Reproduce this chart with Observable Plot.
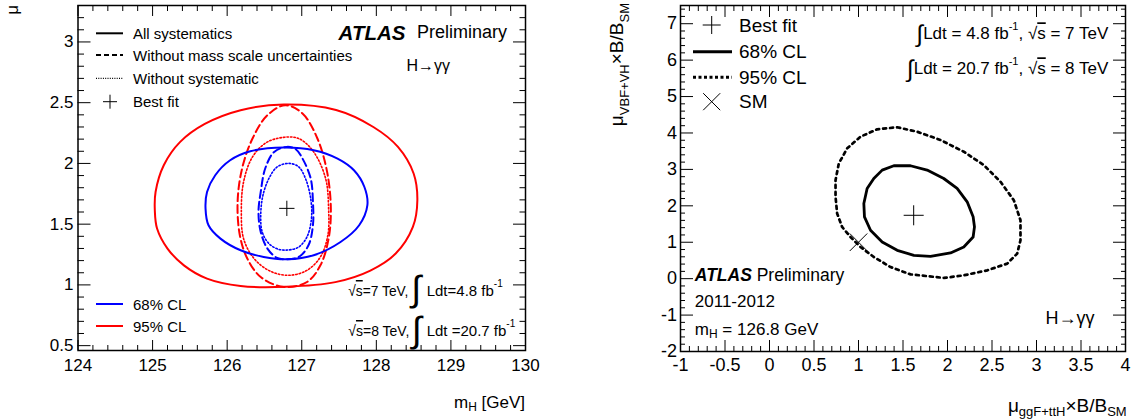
<!DOCTYPE html>
<html><head><meta charset="utf-8">
<script src="https://cdn.jsdelivr.net/npm/d3@7"></script>
<script src="https://cdn.jsdelivr.net/npm/@observablehq/plot@0.6"></script>
<style>
body{margin:0;background:#fff;}
#wrap{position:relative;width:1137px;height:419px;display:flex;}
#wrap > svg{flex:none;}
#overlay{position:absolute;left:0;top:0;pointer-events:none;}
</style></head><body><div id="wrap"></div>
<script>
const FONT = '"Liberation Sans", Arial, Helvetica, sans-serif';

// ---------- Left panel: mu vs mH ----------
const leftXTicks = [124, 125, 126, 127, 128, 129, 130];
const leftYTicks = [0.5, 1, 1.5, 2, 2.5, 3];
const leftBestFit = [[126.8, 1.63]];
// 95% CL, all systematics (red solid)
const c95All = [[126.76,2.485],[127.46,2.440],[127.96,2.300],[128.29,2.136],[128.50,1.917],[128.55,1.697],[128.49,1.477],[128.26,1.258],[127.92,1.118],[127.45,1.023],[126.79,0.985],[126.18,0.991],[125.73,1.052],[125.42,1.161],[125.20,1.299],[125.06,1.464],[125.03,1.614],[125.04,1.765],[125.15,1.985],[125.37,2.177],[125.70,2.325],[126.18,2.438]];
// 68% CL, all systematics (blue solid)
const c68All = [[126.76,2.131],[127.16,2.109],[127.48,2.040],[127.70,1.944],[127.84,1.806],[127.88,1.656],[127.77,1.491],[127.52,1.353],[127.16,1.244],[126.81,1.211],[126.49,1.230],[126.18,1.285],[125.91,1.381],[125.75,1.491],[125.71,1.628],[125.73,1.765],[125.84,1.903],[126.04,2.026],[126.31,2.100]];
// 95% CL, without mass scale uncertainties (red dashed)
const c95NoMass = [[126.78,2.479],[127.01,2.411],[127.21,2.205],[127.34,1.930],[127.39,1.628],[127.36,1.381],[127.25,1.161],[127.07,1.024],[126.76,0.983],[126.45,1.065],[126.27,1.217],[126.17,1.409],[126.14,1.683],[126.20,1.958],[126.34,2.205],[126.54,2.397]];
// 95% CL, without systematics (red dotted)
const c95NoSyst = [[126.83,2.218],[126.98,2.199],[127.16,2.095],[127.32,1.876],[127.36,1.628],[127.35,1.409],[127.25,1.230],[127.07,1.120],[126.83,1.079],[126.58,1.112],[126.36,1.217],[126.22,1.381],[126.19,1.601],[126.22,1.848],[126.34,2.054],[126.54,2.177]];
// 68% CL, without mass scale uncertainties (blue dashed)
const c68NoMass = [[126.80,2.136],[126.92,2.117],[127.01,2.040],[127.12,1.876],[127.15,1.683],[127.15,1.491],[127.09,1.326],[126.96,1.230],[126.80,1.211],[126.67,1.222],[126.54,1.299],[126.45,1.436],[126.42,1.601],[126.45,1.765],[126.51,1.958],[126.63,2.095]];
// 68% CL, without systematics (blue dotted)
const c68NoSyst = [[126.83,2.000],[126.96,1.971],[127.05,1.876],[127.12,1.711],[127.13,1.546],[127.07,1.395],[126.96,1.312],[126.83,1.288],[126.69,1.293],[126.56,1.340],[126.47,1.436],[126.45,1.573],[126.48,1.738],[126.56,1.876],[126.67,1.971]];

// ---------- Right panel: mu_VBF+VH vs mu_ggF+ttH ----------
const rightXTicks = [-1, -0.5, 0, 0.5, 1, 1.5, 2, 2.5, 3, 3.5, 4];
const rightYTicks = [-2, -1, 0, 1, 2, 3, 4, 5, 6, 7];
const rightBestFit = [[1.62, 1.74]];
const rightSM = [[1, 1]];
const r68 = [[1.397,3.10],[1.584,3.10],[1.771,2.98],[1.958,2.75],[2.108,2.48],[2.221,2.11],[2.288,1.70],[2.303,1.42],[2.288,1.145],[2.183,0.87],[2.034,0.705],[1.809,0.614],[1.622,0.641],[1.435,0.779],[1.266,1.007],[1.135,1.329],[1.067,1.696],[1.060,2.064],[1.097,2.477],[1.172,2.752],[1.266,2.98]];
const r95 = [[1.435,4.156],[1.659,4.035],[1.921,3.807],[2.183,3.485],[2.408,3.118],[2.596,2.659],[2.745,2.155],[2.820,1.605],[2.820,1.054],[2.783,0.688],[2.671,0.413],[2.446,0.228],[2.183,0.091],[1.958,0.02],[1.584,0.118],[1.360,0.319],[1.172,0.595],[1.022,0.870],[0.910,1.145],[0.816,1.42],[0.760,1.789],[0.742,2.246],[0.742,2.705],[0.779,3.165],[0.873,3.578],[1.022,3.898],[1.210,4.101]];

// minor ticks (axis decoration)
const minors = (a, b, step, majorStep) => d3.range(0, Math.round((b - a) / step) + 1)
  .map(i => +(a + i * step).toFixed(4))
  .filter(v => Math.abs(v / majorStep - Math.round(v / majorStep)) > 1e-6);

const fmt = d => String(d);
const X = d => d[0], Y = d => d[1];

function boxAxes(xMaj, xMin, yMaj, yMin, s) {
  const t = (fn, data, o) => fn(data, {fill: "none", label: null, strokeWidth: 1, ...o});
  return [
    t(Plot.axisX, xMaj, {anchor: "bottom", tickSize: -s.xM}),
    t(Plot.axisX, xMin, {anchor: "bottom", tickSize: -s.xm}),
    t(Plot.axisX, xMaj, {anchor: "top", tickSize: -s.xM}),
    t(Plot.axisX, xMin, {anchor: "top", tickSize: -s.xm}),
    t(Plot.axisY, yMaj, {anchor: "left", tickSize: -s.yM}),
    t(Plot.axisY, yMin, {anchor: "left", tickSize: -s.ym}),
    t(Plot.axisY, yMaj, {anchor: "right", tickSize: -s.yM}),
    t(Plot.axisY, yMin, {anchor: "right", tickSize: -s.ym}),
    Plot.axisX(xMaj, {anchor: "bottom", tickSize: 0, tickPadding: s.xp, label: null, tickFormat: fmt, fontSize: s.fs}),
    Plot.axisY(yMaj, {anchor: "left", tickSize: 0, tickPadding: s.yp, label: null, tickFormat: fmt, fontSize: s.fs})
  ];
}

const wrap = document.getElementById("wrap");

const left = Plot.plot({
  width: 568, height: 419,
  marginLeft: 77.5, marginRight: 43, marginTop: 5, marginBottom: 69,
  x: {domain: [124, 130], axis: null},
  y: {domain: [0.46, 3.3], axis: null},
  style: {fontFamily: FONT, fontSize: "17px", color: "black", background: "transparent", overflow: "visible"},
  marks: [
    ...boxAxes(leftXTicks, minors(124, 130, 0.2, 1), leftYTicks, minors(0.5, 3.3, 0.1, 0.5),
      {xM: 10, xm: 5, yM: 13, ym: 6.5, xp: 8, yp: 4.5, fs: 17}),
    Plot.line(c95All, {x: X, y: Y, curve: "catmull-rom-closed", stroke: "#ff0000", strokeWidth: 2}),
    Plot.line(c95NoMass, {x: X, y: Y, curve: "catmull-rom-closed", stroke: "#ff0000", strokeWidth: 2, strokeDasharray: "8,4"}),
    Plot.line(c95NoSyst, {x: X, y: Y, curve: "catmull-rom-closed", stroke: "#ff0000", strokeWidth: 1.6, strokeDasharray: "1.5,2"}),
    Plot.line(c68All, {x: X, y: Y, curve: "catmull-rom-closed", stroke: "#0000ff", strokeWidth: 2}),
    Plot.line(c68NoMass, {x: X, y: Y, curve: "catmull-rom-closed", stroke: "#0000ff", strokeWidth: 2, strokeDasharray: "8,4"}),
    Plot.line(c68NoSyst, {x: X, y: Y, curve: "catmull-rom-closed", stroke: "#0000ff", strokeWidth: 1.6, strokeDasharray: "1.5,2"}),
    Plot.dot(leftBestFit, {x: X, y: Y, symbol: "plus", r: 5, stroke: "black", strokeWidth: 1}),
    Plot.frame({stroke: "black", strokeWidth: 1.5})
  ]
});

const right = Plot.plot({
  width: 569, height: 419,
  marginLeft: 112, marginRight: 12, marginTop: 5, marginBottom: 68,
  x: {domain: [-1, 4], axis: null},
  y: {domain: [-2, 7.5], axis: null},
  style: {fontFamily: FONT, fontSize: "18px", color: "black", background: "transparent", overflow: "visible"},
  marks: [
    ...boxAxes(rightXTicks, minors(-1, 4, 0.1, 0.5), rightYTicks, minors(-2, 7.4, 0.2, 1),
      {xM: 11, xm: 5, yM: 13, ym: 5, xp: 7, yp: 3.5, fs: 18}),
    Plot.line(r95, {x: X, y: Y, curve: "linear-closed", stroke: "black", strokeWidth: 2.7, strokeDasharray: "3,4"}),
    Plot.line(r68, {x: X, y: Y, curve: "linear-closed", stroke: "black", strokeWidth: 2.8}),
    Plot.dot(rightBestFit, {x: X, y: Y, symbol: "plus", r: 6.5, stroke: "black", strokeWidth: 1}),
    Plot.dot(rightSM, {x: X, y: Y, symbol: "times", r: 8, stroke: "black", strokeWidth: 1}),
    Plot.frame({stroke: "black", strokeWidth: 1.5})
  ]
});

wrap.appendChild(left);
wrap.appendChild(right);

// ---------- Overlay: legends, annotations, axis titles ----------
const ov = d3.select(wrap).append("svg").attr("id", "overlay")
  .attr("width", 1137).attr("height", 419)
  .attr("font-family", FONT).attr("fill", "black");

function text(x, y, size, anchor = "start") {
  return ov.append("text").attr("x", x).attr("y", y).attr("font-size", size)
    .attr("text-anchor", anchor).attr("dominant-baseline", "central");
}
function span(t, str, o = {}) {
  const s = t.append("tspan").text(str);
  for (const k in o) s.attr(k, o[k]);
  return s;
}
function seg(x1, x2, y, stroke, w, dash) {
  const l = ov.append("line").attr("x1", x1).attr("x2", x2).attr("y1", y).attr("y2", y)
    .attr("stroke", stroke).attr("stroke-width", w);
  if (dash) l.attr("stroke-dasharray", dash);
}
function plus(cx, cy, h) {
  ov.append("path").attr("d", `M${cx - h},${cy}H${cx + h}M${cx},${cy - h}V${cy + h}`)
    .attr("stroke", "black").attr("stroke-width", 1).attr("fill", "none");
}
function times(cx, cy, h) {
  ov.append("path").attr("d", `M${cx - h},${cy - h}L${cx + h},${cy + h}M${cx - h},${cy + h}L${cx + h},${cy - h}`)
    .attr("stroke", "black").attr("stroke-width", 1).attr("fill", "none");
}

// Left legend
seg(96, 123, 33.3, "black", 2);
text(133, 33.3, 15).text("All systematics");
seg(96, 123, 55, "black", 2, "5,3");
text(133, 55, 15).text("Without mass scale uncertainties");
seg(96, 123, 78.3, "black", 1.2, "1,1.3");
text(133, 78.3, 15).text("Without systematic");
plus(110, 101.7, 7);
text(133, 101.7, 15).text("Best fit");

const at1 = text(338.6, 31.7, 20.5);
span(at1, "ATLAS", {"font-weight": "bold", "font-style": "italic"});
text(417, 31.7, 18).text("Preliminary");
text(406.4, 65, 16).text("H\u2192\u03b3\u03b3");

seg(96, 123, 304, "#0000ff", 2);
text(133, 304, 15).text("68% CL");
seg(96, 123, 326, "#ff0000", 2);
text(133, 326, 15).text("95% CL");

function sqrtS(t, num) {
  span(t, "\u221a");
  span(t, "s", {style: "text-decoration: overline"});
  span(t, `=${num} TeV,`);
}
const r1 = text(348.3, 290, 15); sqrtS(r1, 7); r1.attr("textLength", 60).attr("lengthAdjust", "spacingAndGlyphs");
text(416.5, 288, 36, "middle").text("\u222b");
const l1 = text(426.7, 290, 15); span(l1, "Ldt=4.8 fb"); span(l1, "-1", {"font-size": 10, dy: -7});
const r2 = text(348.3, 330, 15); sqrtS(r2, 8); r2.attr("textLength", 61).attr("lengthAdjust", "spacingAndGlyphs");
text(417, 329, 36, "middle").text("\u222b");
const l2 = text(426.7, 330, 15); span(l2, "Ldt =20.7 fb"); span(l2, "-1", {"font-size": 10, dy: -7});

const xl = text(525, 402, 17, "end");
span(xl, "m"); span(xl, "H", {"font-size": 12, dy: 5}); span(xl, " [GeV]", {dy: -5});
ov.append("text").attr("transform", "translate(18,5) rotate(-90)").attr("text-anchor", "end")
  .attr("font-size", 17).text("\u03bc");

// Right legend
plus(711.7, 25, 9);
text(739, 25, 19).text("Best fit");
seg(693, 732, 51.7, "black", 3);
text(739, 51.7, 19).text("68% CL");
seg(693, 732, 77.3, "black", 3, "3,2.5");
text(739, 77.3, 19).text("95% CL");
times(711.7, 101.7, 8.5);
text(739, 101.7, 19).text("SM");

function lumiRow(y, lumi, e) {
  const t = text(1108.3, y, 17, "end");
  span(t, "\u222b", {"font-size": 24});
  span(t, `Ldt = ${lumi} fb`);
  span(t, "-1", {"font-size": 11, dy: -7});
  span(t, ", \u221a", {dy: 7});
  span(t, "s", {style: "text-decoration: overline"});
  span(t, ` = ${e} TeV`);
}
lumiRow(33.3, "4.8", 7);
lumiRow(68.3, "20.7", 8);

const at2 = text(694.8, 275, 17.5);
span(at2, "ATLAS", {"font-weight": "bold", "font-style": "italic"});
span(at2, " Preliminary");
text(694.8, 301.7, 17).text("2011-2012");
const mh = text(694.8, 329, 17);
span(mh, "m"); span(mh, "H", {"font-size": 12, dy: 5}); span(mh, " = 126.8 GeV", {dy: -5});
text(1094.4, 318.3, 18, "end").text("H\u2192\u03b3\u03b3");

const xr = text(1126.7, 405, 19, "end");
span(xr, "\u03bc"); span(xr, "ggF+ttH", {"font-size": 13, dy: 6});
span(xr, "\u00d7B/B", {dy: -6}); span(xr, "SM", {"font-size": 13, dy: 6});

const yr = ov.append("text").attr("transform", "translate(623,3) rotate(-90)")
  .attr("text-anchor", "end").attr("font-size", 19);
span(yr, "\u03bc"); span(yr, "VBF+VH", {"font-size": 13, dy: 6});
span(yr, "\u00d7B/B", {dy: -6}); span(yr, "SM", {"font-size": 13, dy: 6});
</script>
</body></html>
